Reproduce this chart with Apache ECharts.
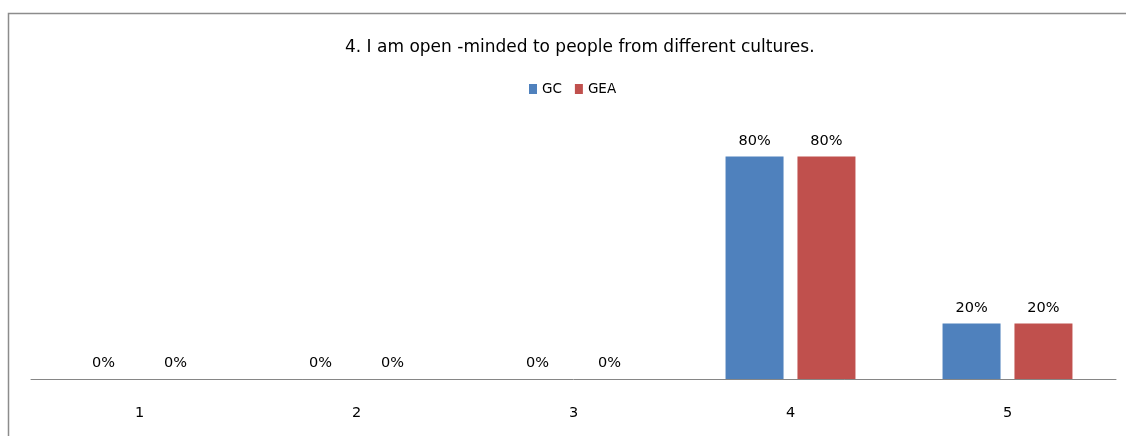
<!DOCTYPE html>
<html>
<head>
<meta charset="utf-8">
<script src="https://cdn.jsdelivr.net/npm/echarts@6/dist/echarts.min.js"></script>
<style>
  html, body { margin: 0; padding: 0; background: #fff; }
  #chart { width: 1126px; height: 436px; }
</style>
</head>
<body>
<div id="chart"></div>
<script>
const categories = ['1', '2', '3', '4', '5'];
const gcValues = [0, 0, 0, 80, 20];
const geaValues = [0, 0, 0, 80, 20];
const titleText = '4. I am open -minded to people from different cultures.';

const font = '"DejaVu Sans", sans-serif';
const chart = echarts.init(document.getElementById('chart'));

const label = {
  show: true, position: 'top', distance: 8,
  formatter: p => p.value + '%',
  fontFamily: font, fontSize: 14.5, color: '#000'
};

chart.setOption({
  animation: false,
  title: {
    text: titleText, left: 340, top: 34,
    textStyle: { fontFamily: font, fontSize: 17, fontWeight: 'normal', color: '#000' }
  },
  legend: {
    top: 77, left: 524, icon: 'rect', itemWidth: 8, itemHeight: 10, itemGap: 13,
    textStyle: { fontFamily: font, fontSize: 13.5, color: '#000' },
    data: ['GC', 'GEA']
  },
  graphic: [{
    type: 'rect', silent: true,
    shape: { x: 8.5, y: 13.5, width: 1200, height: 500 },
    style: { fill: 'none', stroke: '#8c8c8c', lineWidth: 1.5 }
  }],
  grid: { left: 31, right: 10, top: 101, bottom: 57 },
  xAxis: {
    type: 'category', data: categories,
    axisLine: { lineStyle: { color: '#868686', width: 1 } },
    axisTick: { show: false },
    axisLabel: { margin: 27, fontFamily: font, fontSize: 14.5, color: '#000' }
  },
  yAxis: {
    type: 'value', min: 0, max: 100, show: false,
    splitLine: { show: false }
  },
  series: [
    { name: 'GC', type: 'bar', data: gcValues, barWidth: 58, barGap: '24%',
      itemStyle: { color: '#4F81BD' }, label },
    { name: 'GEA', type: 'bar', data: geaValues, barWidth: 58,
      itemStyle: { color: '#C0504D' }, label }
  ]
});
</script>
</body>
</html>
